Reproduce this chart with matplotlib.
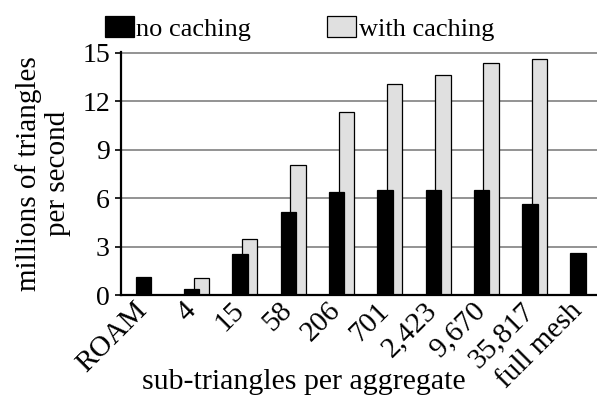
import matplotlib.pyplot as plt
import numpy as np

plt.rcParams['font.family'] = ['Liberation Serif', 'DejaVu Serif']

# sub-triangles per aggregate
categories = ['ROAM', '4', '15', '58', '206', '701', '2,423', '9,670', '35,817', 'full mesh']
# millions of triangles per second
no_caching = [1.1, 0.37, 2.54, 5.15, 6.35, 6.52, 6.48, 6.48, 5.62, 2.57]
with_caching = [0, 1.05, 3.47, 8.05, 11.34, 13.05, 13.6, 14.38, 14.59, 0]

x = np.arange(len(categories))

fig = plt.figure(figsize=(5.97, 3.96), dpi=100)
ax = fig.add_axes([0.2027, 0.255, 0.7973, 0.614])

ax.set_axisbelow(True)
ax.yaxis.grid(True, color='#8a8a8a', linewidth=1.3)

w = 0.32
ax.bar(x + 0.1, with_caching, w, color='#e0e0e0', edgecolor='black', linewidth=0.9,
       label='with caching', zorder=2)
ax.bar(x - 0.1, no_caching, w, color='black', edgecolor='black', linewidth=0.9,
       label='no caching', zorder=3)

ax.set_xlim(-0.565, 9.29)
ax.set_ylim(0, 15.05)
ax.set_yticks([0, 3, 6, 9, 12, 15])
ax.set_xticks(x)
ax.set_xticklabels(categories, rotation=45, ha='right', va='baseline', rotation_mode='anchor')
ax.tick_params(axis='x', length=0, pad=12, labelsize=21)
ax.tick_params(axis='y', length=4, width=1.2, pad=4, labelsize=20)

for s in ['top', 'right']:
    ax.spines[s].set_visible(False)
for s in ['left', 'bottom']:
    ax.spines[s].set_linewidth(1.6)

ax.set_ylabel('millions of triangles\nper second', fontsize=21, linespacing=1.15, labelpad=8)
fig.text(0.509, 0.018, 'sub-triangles per aggregate', fontsize=21.5, ha='center', va='baseline')

handles, labels = ax.get_legend_handles_labels()
ax.legend(handles[::-1], labels[::-1], loc='lower left', bbox_to_anchor=(-0.034, 1.045),
          ncol=2, frameon=False, fontsize=19, handlelength=1.1, handleheight=0.85,
          handletextpad=0.08, columnspacing=2.9, borderpad=0, borderaxespad=0)

fig.savefig('out.png', dpi=100)
